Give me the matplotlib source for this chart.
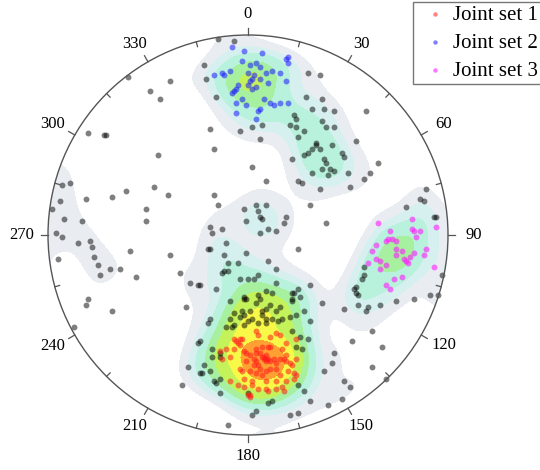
import numpy as np
import matplotlib
matplotlib.use("Agg")
import matplotlib.pyplot as plt
from matplotlib.patches import Circle

plt.rcParams['font.family'] = ['Liberation Serif', 'DejaVu Serif']

# Pole positions on the equal-area net (lower hemisphere), in percent of the net radius (east, north)
joint_set_1 = [
    (4, -48), (5, -50), (14, -49), (16, -50), (11, -51), (-3, -52), (-5, -54), (-7, -52),
    (-4, -55), (7, -56), (11, -56), (17, -57), (-2, -58), (-1, -59), (19, -54), (1, -60),
    (4, -59), (6, -59), (8, -61), (9, -62), (9, -63), (3, -62), (4, -63), (5, -65),
    (3, -65), (6, -67), (11, -63), (13, -62), (14, -64), (18, -62), (19, -63), (21, -64),
    (22, -65), (-9, -61), (-1, -63), (-4, -67), (9, -68), (11, -67), (14, -67), (20, -68),
    (23, -69), (24, -70), (-3, -68), (1, -68), (4, -69), (7, -70), (16, -70), (-9, -73),
    (-2, -72), (2, -73), (9, -73), (14, -73), (19, -73), (-2, -76), (5, -77), (10, -78),
    (14, -77), (18, -78), (1, -80), (1, -81), (-6, -53), (-4, -52), (-7, -57), (-13, -62),
    (-14, -58), (-11, -57), (4, -57), (16, -62), (19, -60), (24, -62), (-5, -75), (2, -75),
    (9, -77), (17, -76), (0, -80), (23, -72), (24, -52), (10, -56), (7, -61), (8, -62),
    (10, -62), (9, -60),
]

joint_set_2 = [
    (-8, 94), (-2, 92), (7, 91), (20, 89), (19, 88), (20, 86), (-3, 87), (1, 85),
    (4, 86), (6, 84), (-17, 80), (-13, 81), (-9, 82), (-12, 80), (0, 81), (3, 80),
    (9, 81), (12, 82), (16, 81), (10, 76), (6, 78), (2, 78), (0, 75), (2, 73),
    (-5, 75), (-6, 73), (-7, 72), (-8, 71), (19, 77), (8, 68), (11, 66), (13, 65),
    (16, 66), (20, 66), (6, 63), (5, 62), (-1, 65), (-6, 66), (-6, 61), (4, 58),
    (-3, 68), (4, 74), (1, 77),
]

joint_set_3 = [
    (65, 6), (71, 2), (82, 8), (83, 2), (82, 3), (86, 2), (84, -1), (94, 4),
    (69, -3), (70, -2), (72, -2), (74, -3), (64, -5), (74, -7), (62, -8), (77, -8),
    (74, -10), (83, -9), (89, -7), (88, -10), (81, -11), (79, -13), (78, -12), (80, -14),
    (64, -12), (66, -13), (60, -14), (69, -15), (66, -17), (93, -16), (73, -22), (77, -21),
    (69, -25), (71, -27),
]

other_poles = [
    (-15, 98), (-7, 97), (-22, 85), (-21, 78), (-16, 69), (-19, 53), (-17, 43), (-4, 52),
    (2, 54), (7, 55), (6, 48), (2, 34), (9, 27), (-17, 20), (30, 81), (36, 80),
    (29, 69), (37, 68), (32, 63), (38, 63), (43, 62), (23, 60), (24, 58), (21, 55),
    (24, 54), (28, 52), (25, 49), (37, 57), (43, 54), (34, 46), (34, 45), (32, 43),
    (30, 41), (28, 40), (36, 43), (42, 45), (47, 41), (48, 39), (22, 38), (38, 38),
    (39, 36), (37, 33), (41, 33), (43, 32), (32, 31), (40, 30), (50, 31), (51, 24),
    (25, 27), (27, 26), (36, 23), (54, 47), (39, 54), (59, 62), (65, 36), (61, 31),
    (58, 28),
    (-60, 79), (-39, 77), (-49, 72), (-44, 68), (-80, 51), (-72, 50), (-71, 50), (-45, 40),
    (-47, 24), (-40, 20), (-61, 22), (-68, 19), (-81, 18), (-51, 13), (-51, 7), (-93, 25),
    (-89, 26), (-94, 17), (-98, 13), (-92, 8), (-83, 7), (-96, 1), (-93, -1), (-85, -4),
    (-79, -3), (-78, -6), (-59, -8), (-39, -10), (-95, -12), (-77, -11), (-75, -15), (-69, -17),
    (-64, -17), (-74, -20), (-56, -21), (-34, -19), (-29, -24), (-25, -25), (-80, -32), (-81, -35),
    (-68, -38), (-87, -46),
    (-15, 15), (4, 15), (9, 15), (-2, 13), (5, 12), (6, 9), (7, 8), (-1, 7),
    (19, 9), (18, 6), (10, 3), (14, 2), (6, 1), (-19, 4), (-13, 3), (-18, 1),
    (-11, -4), (-19, -7), (-20, -7), (-1, -9), (-12, -10), (-10, -14), (-5, -14), (10, -13),
    (25, -7), (39, 6), (31, 15), (-13, -19), (-12, -18), (-10, -18), (5, -20), (14, -17),
    (0, -22), (-4, -22), (3, -22), (-16, -27), (-24, -25), (14, -24), (31, -25), (25, -27),
    (22, -29), (23, -29), (22, -32), (22, -33), (26, -31), (37, -34), (9, -28), (12, -29),
    (5, -30), (-2, -31), (-1, -32), (-2, -32), (-9, -33), (4, -34), (6, -32), (11, -35),
    (16, -36), (-7, -39), (-3, -38), (1, -38), (7, -38), (9, -37), (14, -38), (-4, -41),
    (-2, -40), (2, -42), (7, -40), (9, -42), (9, -44), (12, -42), (15, -43), (17, -42),
    (21, -41), (-9, -42), (-7, -45), (-2, -45), (0, -43), (5, -44), (-19, -42), (-20, -44),
    (31, -43), (-11, -46), (-8, -46), (-31, -36), (48, -37), (59, -38), (24, -40), (28, -38),
    (-24, -53), (-25, -54), (-18, -57), (-14, -61), (-18, -61), (-23, -69), (-24, -69), (-19, -68),
    (-22, -65), (-14, -72), (-30, -66), (-33, -75), (-17, -73), (-16, -74), (-14, -79), (0, -79),
    (-14, -59), (22, -48), (26, -51),
    (10, -84), (12, -83), (4, -88), (2, -90), (21, -90), (25, -89), (-10, -95), (28, -78),
    (25, -75), (31, -83), (40, -85), (47, -82), (48, -73), (51, -76), (43, -59), (38, -68),
    (27, -57), (24, -56), (30, -52), (52, -53), (62, -48), (62, -66), (54, -29), (60, -36),
    (42, -64), (67, -56), (69, -72),
    (54, -26), (53, -27), (55, -30), (55, -35), (58, -16), (58, -20), (57, -22), (66, -35),
    (74, -33), (83, -32), (91, -30), (95, -30), (97, -20), (89, 23), (86, 18), (88, 17),
    (79, 14), (93, 9), (94, 9),
]

tick_labels = ['0', '30', '60', '90', '120', '150', '180', '210', '240', '270', '300', '330']

set1 = np.array(joint_set_1) / 100.0
set2 = np.array(joint_set_2) / 100.0
set3 = np.array(joint_set_3) / 100.0
rest = np.array(other_poles) / 100.0
all_poles = np.vstack([set1, set2, set3, rest])


def net_to_vec(x, y):
    # inverse Schmidt (equal-area) projection, lower hemisphere
    r = np.clip(np.hypot(x, y), 1e-9, 1.0)
    theta = 2 * np.arcsin(r / np.sqrt(2))
    s = np.sin(theta) / r
    return np.stack([x * s, y * s, -np.cos(theta)], axis=-1)


# --- pole density on the sphere (axial exponential kernel) ---
kappa = 70.0
g = np.linspace(-1.02, 1.02, 340)
gx, gy = np.meshgrid(g, g)
grid_vec = net_to_vec(gx, gy)
pole_vec = net_to_vec(all_poles[:, 0], all_poles[:, 1])
dens = np.zeros_like(gx)
for v in pole_vec:
    c = np.abs(grid_vec @ v)
    dens += np.exp(kappa * (c - 1))

levels = [4.3, 7.0, 9.5, 13.2, 17, 23, 30, 39, 200]
colors = ['#e9edf2', '#d6f0f0', '#b9f2dc', '#a6f0a0', '#c4f25a',
          '#f8f848', '#ffa033', '#ff4a12']

fig = plt.figure(figsize=(5.4, 4.7), dpi=100)
ax = fig.add_axes([48 / 540, 35 / 470, 400 / 540, 400 / 470])
ax.set_xlim(-1, 1)
ax.set_ylim(-1, 1)
ax.set_aspect('equal')
ax.axis('off')

net = Circle((0, 0), 1, transform=ax.transData, facecolor='none')
cf = ax.contourf(gx, gy, dens, levels=levels, colors=colors, zorder=1)
cf.set_clip_path(net)

ax.scatter(rest[:, 0], rest[:, 1], s=18, color='black', alpha=0.5, lw=0, zorder=3)
h1 = ax.scatter(set1[:, 0], set1[:, 1], s=18, color='#ff1a1a', alpha=0.55, lw=0,
                zorder=4, label='Joint set 1')
h2 = ax.scatter(set2[:, 0], set2[:, 1], s=18, color='#1a1aff', alpha=0.55, lw=0,
                zorder=4, label='Joint set 2')
h3 = ax.scatter(set3[:, 0], set3[:, 1], s=18, color='#ff1aff', alpha=0.6, lw=0,
                zorder=4, label='Joint set 3')

# primitive circle, ticks and azimuth labels
ax.add_patch(Circle((0, 0), 1, facecolor='none', edgecolor='#555555', lw=1, zorder=5,
                    clip_on=False))
for az in range(0, 360, 15):
    t = np.deg2rad(az)
    sx, sy = np.sin(t), np.cos(t)
    if az % 30 == 0:
        r0, r1 = 1.0, 1.035
    else:
        r0, r1 = 0.975, 1.0
    ax.plot([r0 * sx, r1 * sx], [r0 * sy, r1 * sy], color='#555555', lw=0.9,
            zorder=5, clip_on=False)
for i, lab in enumerate(tick_labels):
    t = np.deg2rad(i * 30)
    ax.text(1.13 * np.sin(t), 1.105 * np.cos(t), lab, ha='center', va='center',
            fontsize=12, clip_on=False)

leg = fig.legend(handles=[h1, h2, h3], loc='upper left', bbox_to_anchor=(413 / 540, 0.996),
                 fontsize=15, frameon=True, fancybox=False, edgecolor='#555555',
                 markerscale=0.75, handletextpad=0.0, labelspacing=0.4, borderpad=0.16,
                 handlelength=1.75, borderaxespad=0)
leg.get_frame().set_linewidth(1.0)

fig.savefig('out.png', dpi=100)
